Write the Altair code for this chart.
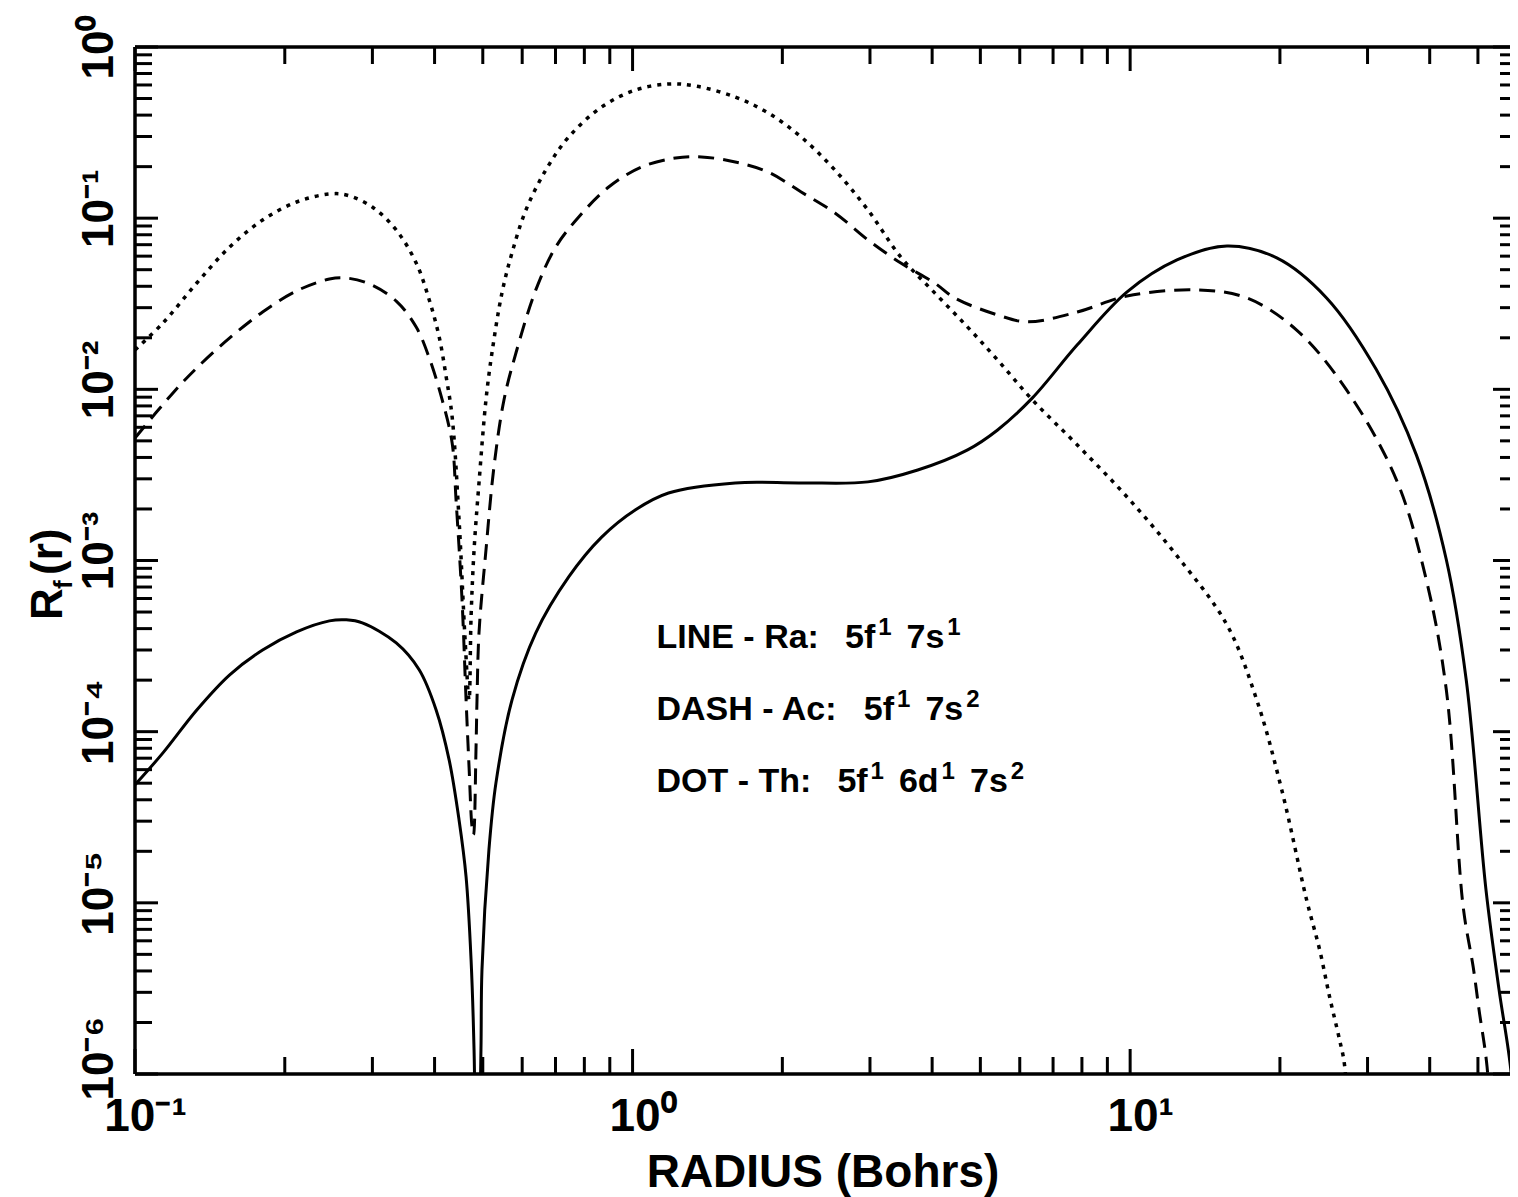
import altair as alt
import pandas as pd

# ---------------- data ----------------
# Ra: 5f1 7s1  (solid)
ra_r = [0.1, 0.1138, 0.1331, 0.155, 0.1805, 0.2112, 0.2459, 0.2659, 0.2863, 0.335,
        0.3725, 0.4029, 0.4279, 0.448, 0.4628, 0.4736, 0.4802, 0.487, 0.4958, 0.4981,
        0.5144, 0.5314, 0.5723, 0.639, 0.7441, 0.8667, 1.014, 1.181, 1.608, 2.182,
        2.972, 3.742, 4.714, 5.415, 6.363, 7.831, 9.86, 12.42, 15.65, 19.71,
        24.82, 31.26, 37.6, 43.2, 47.36, 51.9, 55.14, 58.29, 59.5]
ra_R = [4.89e-5, 7.52e-5, 1.34e-4, 2.15e-4, 3.0e-4, 3.83e-4, 4.44e-4, 4.50e-4, 4.32e-4, 3.30e-4,
        2.30e-4, 1.34e-4, 6.84e-5, 3.05e-5, 1.42e-5, 4.65e-6, 1.38e-6, 1e-7, 1.38e-6, 4.06e-6,
        2.04e-5, 5.02e-5, 1.53e-4, 3.78e-4, 8.02e-4, 1.37e-3, 1.98e-3, 2.48e-3, 2.84e-3, 2.84e-3,
        2.88e-3, 3.38e-3, 4.43e-3, 5.79e-3, 8.91e-3, 1.82e-2, 3.71e-2, 5.70e-2, 6.88e-2, 5.86e-2,
        3.42e-2, 1.30e-2, 4.14e-3, 1.01e-3, 2.01e-4, 1.19e-5, 3.10e-6, 1.02e-6, 3e-7]

# Ac: 5f1 7s2  (dashed)
ac_r = [0.1, 0.1192, 0.1331, 0.155, 0.1805, 0.2112, 0.2459, 0.2659, 0.2957, 0.335,
        0.3674, 0.3903, 0.4144, 0.4339, 0.4418, 0.4542, 0.4628, 0.4692, 0.4757, 0.479,
        0.4845, 0.4868, 0.4913, 0.5074, 0.5265, 0.5515, 0.5829, 0.639, 0.7009, 0.7795,
        0.8953, 1.042, 1.22, 1.375, 1.608, 1.873, 2.182, 2.551, 2.972, 3.46,
        4.047, 4.44, 5.415, 6.217, 7.831, 9.86, 13.62, 17.16, 21.61, 27.22,
        34.29, 39.38, 43.2, 46.7, 48.91, 50.26, 52.16, 53.5]
ac_R = [5.2e-3, 9.53e-3, 1.334e-2, 1.996e-2, 2.83e-2, 3.76e-2, 4.41e-2, 4.47e-2, 4.13e-2, 3.28e-2,
        2.31e-2, 1.526e-2, 8.67e-3, 4.86e-3, 2.26e-3, 5.89e-4, 1.53e-4, 6.23e-5, 2.78e-5, 2.5e-5,
        7.83e-5, 1.53e-4, 3.78e-4, 1.15e-3, 3.52e-3, 8.67e-3, 1.63e-2, 3.81e-2, 6.79e-2, 0.1016,
        0.152, 0.199, 0.2247, 0.228, 0.213, 0.186, 0.1422, 0.1073, 0.0746, 0.0547,
        0.0418, 0.0342, 0.0272, 0.0248, 0.0283, 0.0351, 0.0381, 0.0342, 0.0222, 9.92e-3,
        2.96e-3, 7.70e-4, 1.75e-4, 9.48e-6, 4.23e-6, 2.37e-6, 1.10e-6, 3e-7]

# Th: 5f1 6d1 7s2  (dotted)
th_r = [0.1, 0.1138, 0.1331, 0.155, 0.1805, 0.2112, 0.2459, 0.2659, 0.2999, 0.335,
        0.3674, 0.3903, 0.4087, 0.4221, 0.4339, 0.448, 0.4607, 0.4692, 0.4736, 0.4802,
        0.4913, 0.5074, 0.5216, 0.5464, 0.5723, 0.6104, 0.6693, 0.7441, 0.8667, 1.014,
        1.181, 1.338, 1.608, 1.873, 2.182, 2.551, 2.972, 3.46, 4.047, 4.714,
        5.415, 6.363, 7.831, 9.86, 12.42, 15.65, 17.97, 20.17, 22.63, 24.04,
        25.17, 26.36, 26.97, 27.6]
th_R = [0.0170, 0.0244, 0.0418, 0.0679, 0.0976, 0.1243, 0.1385, 0.1366, 0.1162, 0.0853,
        0.0547, 0.0333, 0.0202, 0.01181, 6.9e-3, 1.73e-3, 3.44e-4, 1.53e-4, 4.68e-4, 1.15e-3,
        2.84e-3, 8.67e-3, 1.63e-2, 3.66e-2, 6.26e-2, 0.1116, 0.191, 0.298, 0.446, 0.561,
        0.608, 0.592, 0.510, 0.412, 0.298, 0.191, 0.1116, 0.0593, 0.0366, 0.0231,
        0.01485, 8.67e-3, 4.73e-3, 2.35e-3, 1.064e-3, 4.21e-4, 1.53e-4, 4.57e-5, 1.04e-5, 5.31e-6,
        2.82e-6, 1.58e-6, 1.13e-6, 3e-7]

# axis ticks and labels
x_major = [0.1, 1, 10]
x_major_labels = ["10\u207b\u00b9", "10\u2070", "10\u00b9"]
x_minor = [0.2, 0.3, 0.4, 0.5, 0.6, 0.7, 0.8, 0.9,
           2, 3, 4, 5, 6, 7, 8, 9,
           20, 30, 40, 50]
y_major = [1e-6, 1e-5, 1e-4, 1e-3, 1e-2, 1e-1, 1]
y_major_labels = ["10\u207b\u2076", "10\u207b\u2075", "10\u207b\u2074", "10\u207b\u00b3",
                  "10\u207b\u00b2", "10\u207b\u00b9", "10\u2070"]
y_minor_mant = [2, 3, 4, 5, 6, 7, 8, 9]
y_minor_dec = [1e-6, 1e-5, 1e-4, 1e-3, 1e-2, 1e-1]
y_minor = [m * d for d in y_minor_dec for m in y_minor_mant]

x_title = "RADIUS (Bohrs)"
# legend: each line is a list of (text, is_superscript) pieces
legend_pieces = [
    [("LINE - Ra:", False), ("5f", False), ("1", True), ("7s", False), ("1", True)],
    [("DASH - Ac:", False), ("5f", False), ("1", True), ("7s", False), ("2", True)],
    [("DOT - Th:", False), ("5f", False), ("1", True), ("6d", False), ("1", True),
     ("7s", False), ("2", True)],
]
legend_r = [1.117, 1.117, 1.117]
legend_R = [3.08e-4, 1.172e-4, 4.45e-5]

# ---------------- chart ----------------
W, H = 1375, 1027
FONT = "Liberation Sans"
BASE_SIZE, SUP_SIZE, SUP_RAISE = 34, 24, 13

rows = []
for name, rs, Rs in [("Ra", ra_r, ra_R), ("Ac", ac_r, ac_R), ("Th", th_r, th_R)]:
    for i, (a, b) in enumerate(zip(rs, Rs)):
        rows.append({"series": name, "r": a, "R": b, "i": i})
df = pd.DataFrame(rows)

xs = alt.Scale(type="log", domain=[0.1, 58.0], nice=False)
ys = alt.Scale(type="log", domain=[1e-6, 1.0], nice=False)


def lab_expr(vals, labs):
    return "[" + ",".join("'%s'" % s for s in labs) + "][indexof([" + \
        ",".join(repr(v) for v in vals) + "], datum.value)]"


x_axis = alt.Axis(values=x_major, labelExpr=lab_expr(x_major, x_major_labels),
                  ticks=False, domain=False, grid=False, labelFlush=False,
                  labelFont=FONT, labelFontSize=46, labelFontWeight="bold",
                  labelColor="black", labelPadding=20, labelOffset=10,
                  title=x_title, titleFont=FONT, titleFontSize=46,
                  titleFontWeight="bold", titleColor="black",
                  titleBaseline="alphabetic", titleY=112)
y_axis = alt.Axis(values=y_major, labelExpr=lab_expr(y_major, y_major_labels),
                  labelAngle=270, ticks=False, domain=False, grid=False, labelFlush=False,
                  labelFont=FONT, labelFontSize=44, labelFontWeight="bold",
                  labelColor="black", labelPadding=14,
                  labelOffset={"expr": "datum.value >= 0.5 ? 0 : (datum.value < 2e-6 ? -16 : -10)"},
                  title=None)


def curve(name, width, dash=None):
    kw = dict(color="black", strokeWidth=width, clip=True, interpolate="catmull-rom")
    if dash is not None:
        kw["strokeDash"] = dash
    return alt.Chart(df).transform_filter(alt.datum.series == name).mark_line(**kw).encode(
        x=alt.X("r:Q", scale=xs, axis=x_axis),
        y=alt.Y("R:Q", scale=ys, axis=y_axis),
        order="i:Q")


solid = curve("Ra", 3)
dashed = curve("Ac", 3, dash=[16, 9])
dotted = curve("Th", 3.5, dash=[4, 6])

xmin_df = pd.DataFrame({"t": x_minor})
xmaj_df = pd.DataFrame({"t": x_major})
ymin_df = pd.DataFrame({"t": y_minor})
ymaj_df = pd.DataFrame({"t": y_major})


def xticks(d, y0, y1):
    return alt.Chart(d).mark_rule(color="black", strokeWidth=3).encode(
        x=alt.X("t:Q", scale=xs, axis=x_axis), y=alt.value(y0), y2=alt.value(y1))


def yticks(d, x0, x1):
    return alt.Chart(d).mark_rule(color="black", strokeWidth=3).encode(
        y=alt.Y("t:Q", scale=ys, axis=y_axis), x=alt.value(x0), x2=alt.value(x1))


ticks = [
    xticks(xmin_df, H, H - 17), xticks(xmaj_df, H, H - 25),
    xticks(xmin_df, 0, 17), xticks(xmaj_df, 0, 24),
    yticks(ymin_df, 0, 17), yticks(ymaj_df, 0, 23),
    yticks(ymin_df, W - 10, W), yticks(ymaj_df, W - 17, W),
]

frame_h = alt.Chart(pd.DataFrame({"v": [1e-6, 1.0]})).mark_rule(
    color="black", strokeWidth=3.5).encode(y=alt.Y("v:Q", scale=ys, axis=y_axis))
frame_v = alt.Chart(pd.DataFrame({"v": [0.1]})).mark_rule(
    color="black", strokeWidth=3.5).encode(x=alt.X("v:Q", scale=xs, axis=x_axis))

# approximate advance widths (em/1000) of the bold sans face, for laying out pieces
ADV = {" ": 278, "-": 333, ":": 333, "A": 722, "C": 722, "D": 722, "E": 667, "H": 722,
       "I": 278, "L": 611, "N": 722, "O": 778, "R": 722, "S": 667, "T": 611, "a": 556,
       "c": 556, "d": 611, "f": 333, "h": 611, "s": 556, "1": 556, "2": 556, "5": 556,
       "6": 556, "7": 556}


def text_w(t, size):
    return sum(ADV.get(ch, 556) for ch in t) * size / 1000.0


GAP_AFTER_COLON, GAP_BEFORE_SUP, GAP_AFTER_SUP = 26, 3, 15

legend_layers = []
for li, pieces in enumerate(legend_pieces):
    anchor = pd.DataFrame({"r": [legend_r[li]], "R": [legend_R[li]]})
    off = 0.0
    for pi, (txt, sup) in enumerate(pieces):
        size = SUP_SIZE if sup else BASE_SIZE
        if pi > 0:
            if sup:
                off += GAP_BEFORE_SUP
            elif pi == 1:
                off += GAP_AFTER_COLON
            else:
                off += GAP_AFTER_SUP
        legend_layers.append(
            alt.Chart(anchor.assign(t=txt)).mark_text(
                align="left", baseline="alphabetic", font=FONT, fontSize=size,
                fontWeight="bold", color="black", dx=round(off, 1),
                dy=-SUP_RAISE if sup else 0).encode(
                x=alt.X("r:Q", scale=xs, axis=x_axis),
                y=alt.Y("R:Q", scale=ys, axis=y_axis), text="t:N"))
        off += text_w(txt, size)


def ytitle_piece(txt, px, py, size):
    return alt.Chart(pd.DataFrame({"t": [txt]})).mark_text(
        angle=270, align="left", baseline="alphabetic", font=FONT, fontSize=size,
        fontWeight="bold", color="black").encode(
        text="t:N", x=alt.value(px), y=alt.value(py))


ytitle = [ytitle_piece("R", -73, 573, 44), ytitle_piece("f", -63, 542, 26),
          ytitle_piece("(r)", -73, 528, 44)]

chart = alt.layer(
    frame_h, frame_v, *ticks, solid, dashed, dotted, *legend_layers, *ytitle
).properties(
    width=W, height=H,
    autosize=alt.AutoSizeParams(type="none"),
    padding={"left": 127, "top": 39, "right": 0, "bottom": 123},
    background="white",
).configure_view(stroke=None)

chart.save("out.html", embed_options={"renderer": "svg", "actions": False})
